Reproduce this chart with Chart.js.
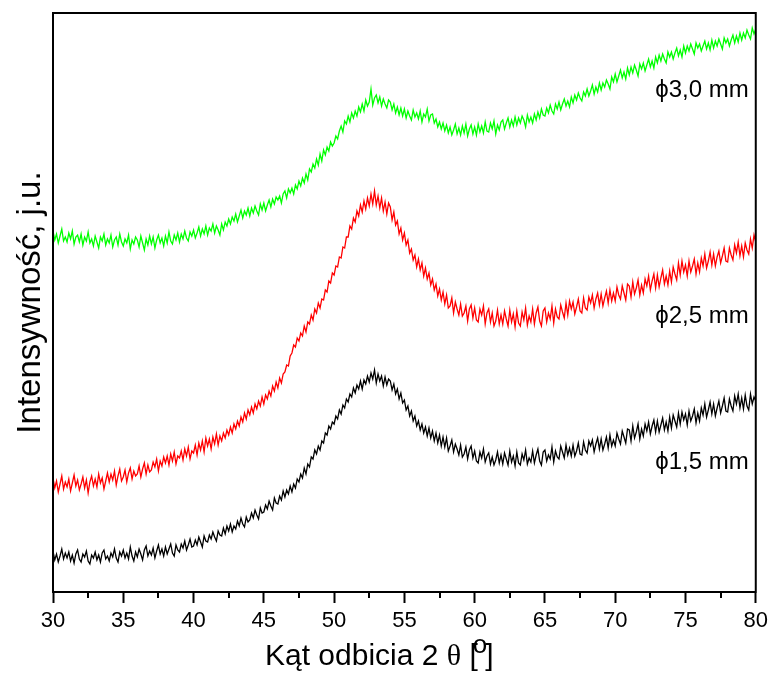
<!DOCTYPE html>
<html>
<head>
<meta charset="utf-8">
<script src="https://cdn.jsdelivr.net/npm/chart.js@4/dist/chart.umd.min.js"></script>
<style>
  html, body { margin: 0; padding: 0; background: #fff; }
  #wrap { width: 773px; height: 673px; }
</style>
</head>
<body>
<div id="wrap"><canvas id="xrd" width="773" height="673"></canvas></div>
<script>
// scan from 30 to 80 deg, 0.125 deg step
const angleStart = 30;
const angleStep = 0.125;

// intensities (arbitrary units, curves offset vertically)
// one row = one degree
const phi30 = [
  361, 352, 358, 349, 356, 363, 351, 355,
  350, 359, 353, 361, 348, 355, 357, 350,
  358, 347, 355, 351, 360, 349, 353, 346,
  356, 350, 344, 355, 351, 358, 347, 353,
  349, 357, 345, 352, 355, 347, 358, 350,
  346, 353, 349, 357, 343, 352, 348, 355,
  352, 345, 356, 349, 342, 353, 347, 356,
  348, 355, 344, 352, 357, 349, 354, 346,
  356, 349, 360, 351, 348, 357, 352, 359,
  350, 358, 353, 361, 354, 351, 360, 356,
  362, 354, 359, 365, 356, 363, 358, 366,
  357, 364, 361, 368, 359, 366, 362, 357,
  368, 362, 370, 366, 373, 368, 375, 371,
  378, 370, 376, 382, 374, 381, 377, 384,
  376, 384, 379, 386, 381, 377, 388, 382,
  389, 381, 387, 392, 385, 393, 388, 395,
  392, 396, 389, 398, 401, 394, 403, 399,
  404, 398, 407, 403, 411, 406, 414, 409,
  418, 412, 423, 420, 428, 424, 433, 427,
  438, 431, 442, 437, 445, 441, 450, 446,
  449, 456, 453, 461, 466, 460, 471, 468,
  476, 470, 479, 474, 481, 476, 485, 480,
  488, 481, 492, 486, 490, 503, 487, 494,
  497, 489, 495, 486, 493, 488, 484, 492,
  490, 482, 488, 479, 485, 477, 484, 476,
  483, 474, 481, 476, 472, 482, 475, 479,
  473, 481, 470, 478, 475, 483, 471, 477,
  478, 469, 473, 465, 470, 463, 469, 461,
  467, 459, 465, 457, 462, 468, 458, 464,
  457, 466, 459, 468, 456, 463, 467, 458,
  465, 457, 468, 460, 466, 459, 470, 461,
  460, 469, 463, 471, 458, 467, 462, 470,
  472, 463, 469, 474, 465, 472, 466, 475,
  467, 474, 469, 476, 472, 465, 477, 470,
  475, 469, 478, 472, 480, 474, 483, 477,
  476, 484, 479, 487, 481, 478, 488, 483,
  490, 482, 488, 493, 486, 491, 485, 495,
  489, 497, 492, 499, 494, 491, 500, 496,
  503, 496, 501, 507, 498, 505, 500, 509,
  502, 509, 505, 512, 508, 503, 515, 510,
  518, 510, 516, 522, 514, 520, 513, 524,
  517, 525, 519, 527, 522, 516, 528, 523,
  529, 521, 527, 533, 525, 531, 524, 535,
  529, 537, 531, 538, 533, 529, 540, 535,
  540, 533, 539, 544, 536, 542, 535, 546,
  539, 546, 541, 548, 543, 538, 549, 544,
  548, 541, 546, 551, 543, 549, 542, 552,
  544, 551, 546, 553, 548, 543, 554, 549,
  553, 546, 552, 557, 549, 556, 550, 559,
  552, 559, 554, 562, 557, 553, 564, 558,
  563
];
const phi25 = [
  114, 104, 111, 100, 108, 116, 103, 110,
  105, 113, 101, 109, 117, 106, 112, 102,
  108, 115, 104, 112, 99, 110, 116, 106,
  113, 105, 118, 109, 114, 103, 111, 119,
  110, 118, 112, 121, 107, 116, 123, 111,
  115, 122, 110, 119, 124, 113, 121, 116,
  118, 126, 115, 123, 129, 118, 127, 120,
  122, 130, 125, 133, 121, 131, 126, 135,
  129, 136, 127, 138, 131, 140, 128, 136,
  134, 141, 132, 143, 136, 145, 133, 141,
  139, 147, 137, 149, 142, 151, 140, 154,
  146, 153, 143, 155, 148, 158, 147, 156,
  151, 159, 154, 162, 157, 165, 159, 168,
  163, 171, 166, 175, 170, 179, 173, 182,
  177, 185, 179, 188, 183, 191, 186, 195,
  188, 197, 193, 201, 196, 206, 201, 210,
  204, 214, 209, 218, 220, 227, 226, 236,
  239, 247, 245, 254, 251, 259, 256, 266,
  260, 270, 268, 277, 272, 283, 279, 289,
  284, 293, 292, 302, 300, 311, 309, 319,
  317, 326, 325, 335, 334, 345, 344, 355,
  355, 366, 363, 374, 370, 381, 376, 387,
  380, 391, 383, 394, 386, 398, 388, 401,
  387, 396, 384, 394, 381, 390, 378, 389,
  385, 372, 380, 367, 371, 358, 364, 352,
  359, 347, 352, 339, 343, 332, 337, 325,
  333, 322, 329, 316, 324, 313, 319, 307,
  313, 302, 308, 296, 303, 292, 300, 288,
  297, 284, 286, 294, 279, 290, 283, 277,
  288, 276, 279, 286, 271, 283, 287, 274,
  284, 272, 270, 283, 277, 286, 268, 279,
  283, 270, 279, 266, 271, 282, 268, 277,
  268, 281, 273, 266, 282, 270, 278, 265,
  281, 269, 266, 280, 272, 284, 267, 276,
  270, 283, 268, 279, 285, 271, 266, 281,
  284, 270, 279, 273, 286, 269, 283, 275,
  273, 287, 280, 274, 289, 277, 291, 283,
  290, 278, 285, 293, 281, 279, 294, 284,
  282, 295, 289, 297, 284, 293, 299, 287,
  298, 286, 294, 301, 289, 302, 291, 299,
  291, 305, 297, 293, 306, 299, 292, 308,
  306, 295, 310, 298, 304, 312, 297, 307,
  299, 313, 306, 316, 302, 311, 318, 304,
  317, 305, 314, 322, 308, 316, 307, 321,
  310, 325, 318, 312, 329, 317, 331, 320,
  327, 316, 331, 320, 326, 333, 318, 329,
  320, 334, 326, 338, 324, 331, 340, 327,
  338, 326, 335, 341, 329, 336, 344, 331,
  330, 344, 337, 332, 347, 339, 350, 336,
  346, 335, 349, 342, 338, 353, 344, 357,
  350
];
const phi15 = [
  41, 32, 38, 30, 36, 43, 33, 39,
  34, 40, 31, 37, 29, 38, 42, 33,
  30, 38, 35, 41, 31, 28, 37, 34,
  40, 32, 37, 30, 39, 42, 33, 36,
  31, 39, 35, 43, 34, 30, 40, 36,
  42, 34, 39, 33, 45, 36, 31, 40,
  35, 43, 38, 32, 42, 46, 36, 41,
  37, 44, 34, 41, 47, 38, 43, 36,
  45, 38, 43, 48, 39, 36, 47, 42,
  40, 48, 44, 51, 42, 47, 53, 45,
  46, 52, 47, 55, 50, 45, 56, 51,
  50, 57, 53, 60, 55, 51, 61, 57,
  56, 64, 58, 66, 61, 68, 60, 66,
  63, 71, 66, 74, 68, 65, 75, 70,
  72, 79, 74, 82, 77, 73, 84, 79,
  80, 87, 83, 91, 86, 82, 94, 89,
  88, 96, 92, 101, 95, 102, 98, 106,
  100, 108, 104, 113, 110, 118, 114, 124,
  118, 128, 125, 135, 133, 142, 138, 146,
  142, 151, 149, 159, 157, 166, 163, 170,
  168, 176, 173, 182, 178, 187, 184, 193,
  190, 198, 195, 204, 199, 207, 203, 211,
  203, 212, 208, 216, 210, 219, 213, 222,
  209, 218, 211, 216, 206, 215, 207, 213,
  211, 202, 208, 198, 203, 193, 199, 189,
  192, 182, 186, 176, 181, 171, 176, 166,
  171, 162, 168, 159, 165, 156, 164, 154,
  161, 151, 159, 149, 157, 146, 155, 145,
  154, 141, 146, 152, 140, 148, 143, 137,
  147, 135, 138, 145, 133, 142, 146, 134,
  141, 131, 129, 140, 134, 143, 130, 136,
  139, 128, 135, 127, 132, 140, 129, 137,
  128, 139, 133, 127, 141, 130, 136, 126,
  140, 129, 127, 138, 132, 142, 128, 134,
  130, 141, 129, 137, 143, 131, 127, 140,
  142, 131, 137, 133, 145, 130, 141, 135,
  133, 146, 140, 134, 147, 137, 144, 136,
  147, 136, 141, 149, 138, 137, 150, 142,
  139, 151, 146, 152, 140, 148, 154, 143,
  153, 142, 148, 155, 144, 157, 146, 152,
  146, 159, 153, 148, 161, 155, 149, 163,
  162, 151, 166, 154, 160, 168, 153, 163,
  156, 168, 161, 170, 158, 166, 172, 160,
  171, 160, 167, 174, 162, 170, 161, 175,
  164, 177, 171, 165, 179, 168, 180, 172,
  178, 167, 181, 171, 176, 183, 169, 179,
  171, 184, 177, 188, 175, 182, 190, 178,
  188, 176, 184, 191, 179, 186, 194, 181,
  180, 193, 186, 181, 196, 188, 198, 184,
  194, 183, 197, 186, 182, 198, 188, 195,
  191
];

const seriesNames = ['\u03D53,0 mm', '\u03D52,5 mm', '\u03D51,5 mm'];
const seriesColors = ['#00ff00', '#ff0000', '#000000'];
// where the curve names sit (angle, intensity)
const labelAnchors = [[79.5, 502], [79.5, 276], [79.5, 130]];

const FONT = '"Liberation Sans", Arial, sans-serif';
const SERIF = '"Liberation Serif", "Times New Roman", serif';

function toPoints(values) {
    return values.map((v, i) => ({ x: angleStart + i * angleStep, y: v }));
}

const frameAndMarks = {
    id: 'frameAndMarks',
    afterDraw(chart) {
        const ctx = chart.ctx;
        const a = chart.chartArea;
        const xs = chart.scales.x;
        const ys = chart.scales.y;
        ctx.save();
        ctx.strokeStyle = '#000';
        ctx.lineWidth = 2;
        ctx.strokeRect(a.left, a.top, a.right - a.left, a.bottom - a.top);
        // minor ticks
        for (let v = 32.5; v < 80; v += 5) {
            const px = Math.round(xs.getPixelForValue(v));
            ctx.beginPath();
            ctx.moveTo(px, a.bottom);
            ctx.lineTo(px, a.bottom + 6);
            ctx.stroke();
        }
        ctx.fillStyle = '#000';
        ctx.font = '24px ' + FONT;
        ctx.textAlign = 'right';
        ctx.textBaseline = 'middle';
        seriesNames.forEach((name, i) => {
            const [ax, ay] = labelAnchors[i];
            ctx.fillText(name, xs.getPixelForValue(ax), ys.getPixelForValue(ay));
        });

        // x axis title, degree sign drawn as a raised "o" like the original
        ctx.textAlign = 'left';
        ctx.textBaseline = 'alphabetic';
        let x = 265;
        const base = 665;
        ctx.font = '30px ' + FONT;
        const p1 = 'Kąt odbicia 2 ';
        ctx.fillText(p1, x, base);
        x += ctx.measureText(p1).width;
        ctx.font = '30px ' + SERIF;
        ctx.fillText('θ', x, base);
        x += ctx.measureText('θ').width;
        ctx.font = '30px ' + FONT;
        const p2 = ' [';
        ctx.fillText(p2, x, base);
        x += ctx.measureText(p2).width - 5;
        ctx.font = '26px ' + FONT;
        ctx.fillText('o', x, base - 12);
        x += ctx.measureText('o').width - 2;
        ctx.font = '30px ' + FONT;
        ctx.fillText(']', x, base);
        ctx.restore();
    }
};

new Chart(document.getElementById('xrd'), {
    type: 'line',
    data: {
        datasets: [phi30, phi25, phi15].map((vals, i) => ({
            label: seriesNames[i],
            data: toPoints(vals),
            borderColor: seriesColors[i],
            borderWidth: 1.3,
            pointRadius: 0,
            tension: 0,
            fill: false
        }))
    },
    options: {
        responsive: false,
        animation: false,
        layout: { padding: { left: 0, right: 16, top: 13, bottom: 0 } },
        plugins: {
            legend: { display: false },
            tooltip: { enabled: false }
        },
        scales: {
            x: {
                type: 'linear',
                min: 30,
                max: 80,
                afterFit(scale) { scale.height = 81; },
                ticks: {
                    stepSize: 5,
                    color: '#000',
                    padding: 5,
                    font: { family: FONT, size: 22 }
                },
                grid: {
                    drawOnChartArea: false,
                    tickLength: 11,
                    tickWidth: 2,
                    tickColor: '#000'
                },
                border: { color: '#000', width: 2 },
                title: { display: false }
            },
            y: {
                min: 0,
                max: 579,
                afterFit(scale) { scale.width = 53; },
                ticks: { display: false },
                grid: { display: false },
                border: { display: false },
                title: {
                    display: true,
                    text: 'Intensywność, j.u.',
                    color: '#000',
                    padding: { top: 11, bottom: 0 },
                    font: { family: FONT, size: 33 }
                }
            }
        }
    },
    plugins: [frameAndMarks]
});
</script>
</body>
</html>
